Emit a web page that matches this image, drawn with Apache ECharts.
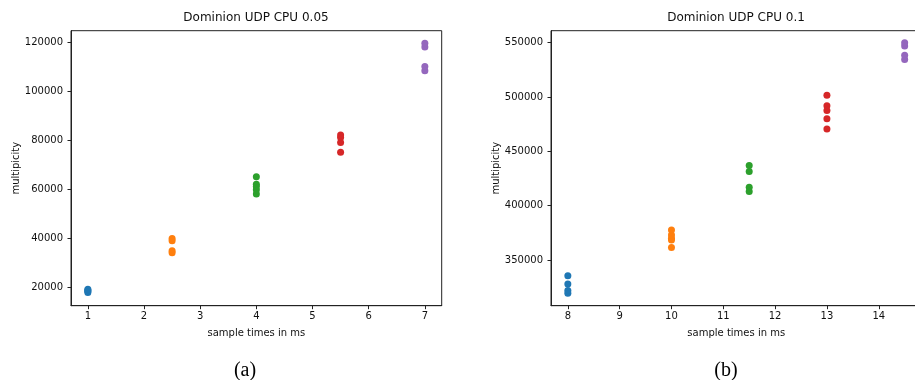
<!DOCTYPE html>
<html>
<head>
<meta charset="utf-8">
<script src="https://cdn.jsdelivr.net/npm/echarts@6/dist/echarts.min.js"></script>
<style>
html,body{margin:0;padding:0;background:#fff;overflow:hidden;width:915px;height:380px;}
#chart{width:930px;height:380px;}
</style>
</head>
<body>
<div id="chart"></div>
<script>
// ---- Data ----
const titleA = "Dominion UDP CPU 0.05";
const titleB = "Dominion UDP CPU 0.1";
const xName = "sample times in ms";
const yName = "multipicity";
const captions = ["(a)", "(b)"];

// Panel (a): x positions of the five groups and their multiplicity values
const aX = [1, 2.5, 4, 5.5, 7];
const aBlue   = [17800, 18300, 18700, 19100];
const aOrange = [34000, 34800, 38900, 39800];
const aGreen  = [58000, 59700, 61000, 62000, 65000];
const aRed    = [75000, 79000, 81000, 82000];
const aPurple = [108300, 110000, 118000, 119500];
const aXTicks = [1, 2, 3, 4, 5, 6, 7];
const aYTicks = [20000, 40000, 60000, 80000, 100000, 120000];

// Panel (b)
const bX = [8, 10, 11.5, 13, 14.5];
const bBlue   = [319500, 322000, 328000, 335500];
const bOrange = [361500, 368500, 370000, 373000, 377500];
const bGreen  = [413000, 417000, 431500, 437000];
const bRed    = [470500, 480000, 487500, 492000, 501500];
const bPurple = [534500, 538500, 547000, 550000];
const bXTicks = [8, 9, 10, 11, 12, 13, 14];
const bYTicks = [350000, 400000, 450000, 500000, 550000];

const colors = ['#1f77b4', '#ff7f0e', '#2ca02c', '#d62728', '#9467bd'];
const aGroups = [aBlue, aOrange, aGreen, aRed, aPurple];
const bGroups = [bBlue, bOrange, bGreen, bRed, bPurple];

// ---- Chart ----
const FONT = "DejaVu Sans";
const txt = '#111';
const chart = echarts.init(document.getElementById('chart'), null, {renderer: 'canvas'});

function xAxisDef(idx, min, max, ticks) {
  return {
    type: 'value', gridIndex: idx, min: min, max: max,
    name: xName, nameLocation: 'middle', nameGap: 23,
    nameTextStyle: {fontFamily: FONT, fontSize: 10, color: txt},
    axisLine: {show: true, onZero: false, lineStyle: {color: '#222', width: 1}},
    axisTick: {show: true, length: 3.5, inside: false, customValues: ticks, lineStyle: {color: '#222'}},
    axisLabel: {show: true, margin: 6, customValues: ticks, fontFamily: FONT, fontSize: 10, color: txt,
      formatter: v => String(v)},
    splitLine: {show: false}
  };
}
function yAxisDef(idx, min, max, ticks, gap) {
  return {
    type: 'value', gridIndex: idx, min: min, max: max,
    name: yName, nameLocation: 'middle', nameGap: gap, nameRotate: 90,
    nameTextStyle: {fontFamily: FONT, fontSize: 10, color: txt},
    axisLine: {show: true, onZero: false, lineStyle: {color: '#222', width: 1}},
    axisTick: {show: true, length: 3.5, inside: false, customValues: ticks, lineStyle: {color: '#222'}},
    axisLabel: {show: true, margin: 8, customValues: ticks, fontFamily: FONT, fontSize: 10, color: txt,
      formatter: v => String(v)},
    splitLine: {show: false}
  };
}

const series = [];
function addSeries(groups, xs, idx) {
  groups.forEach((vals, g) => {
    series.push({
      type: 'scatter', xAxisIndex: idx, yAxisIndex: idx,
      symbol: 'circle', symbolSize: 7,
      itemStyle: {color: colors[g], opacity: 1},
      data: vals.map(v => [xs[g], v]),
      silent: true, animation: false
    });
  });
}
addSeries(aGroups, aX, 0);
addSeries(bGroups, bX, 1);

chart.setOption({
  animation: false,
  backgroundColor: '#fff',
  grid: [
    {left: 71, top: 30.7, width: 370.7, height: 275, show: true, borderColor: '#222', borderWidth: 1, backgroundColor: 'transparent'},
    {left: 551, top: 30.7, width: 370.5, height: 275, show: true, borderColor: '#222', borderWidth: 1, backgroundColor: 'transparent'}
  ],
  xAxis: [xAxisDef(0, 0.7, 7.3, aXTicks), xAxisDef(1, 7.675, 14.825, bXTicks)],
  yAxis: [yAxisDef(0, 12400, 124600, aYTicks, 50), yAxisDef(1, 307950, 561000, bYTicks, 50)],
  series: series,
  graphic: [
    {type: 'text', x: 256, y: 18, style: {text: titleA, font: '12px "DejaVu Sans"', fill: '#111', textAlign: 'center', textVerticalAlign: 'middle'}},
    {type: 'text', x: 736, y: 18, style: {text: titleB, font: '12px "DejaVu Sans"', fill: '#111', textAlign: 'center', textVerticalAlign: 'middle'}},
    {type: 'text', x: 245, y: 371, style: {text: captions[0], font: '20px "Liberation Serif"', fill: '#000', textAlign: 'center', textVerticalAlign: 'middle'}},
    {type: 'text', x: 726, y: 371, style: {text: captions[1], font: '20px "Liberation Serif"', fill: '#000', textAlign: 'center', textVerticalAlign: 'middle'}}
  ]
});
</script>
</body>
</html>
